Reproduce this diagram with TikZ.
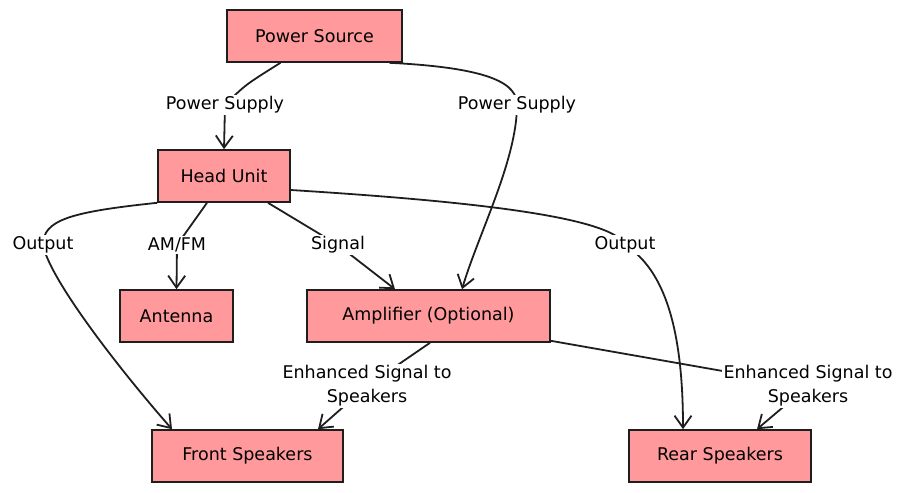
\documentclass[tikz,border=0pt]{standalone}
\usepackage{fontspec}
\setmainfont{DejaVu Sans}
\usetikzlibrary{arrows.meta}
\definecolor{boxpink}{HTML}{FF999C}
\definecolor{ink}{HTML}{1E1E1E}
\tikzset{
  box/.style={draw=ink, fill=boxpink, line width=1.6pt, minimum height=52pt, inner sep=0pt, font=\fontsize{17.5}{20}\selectfont},
  lbl/.style={fill=white, inner sep=1.5pt, align=center, font=\fontsize{17.5}{24}\selectfont},
  conn/.style={draw=ink, line width=1.8pt, -{Straight Barb[length=12pt,width=17pt,line width=1.8pt]}},
}
\begin{document}
\begin{tikzpicture}[x=1pt,y=-1pt]
\useasboundingbox (0,0) rectangle (914,493);
% boxes
\node[box, minimum width=175pt] (ps) at (314.5,36) {Power Source};
\node[box, minimum width=132pt] (hu) at (224,176) {Head Unit};
\node[box, minimum width=113pt] (ant) at (176.5,316) {Antenna};
\node[box, minimum width=243pt] (amp) at (428.5,316) {Amplifier (Optional)};
\node[box, minimum width=191pt] (fs) at (247.5,456) {Front Speakers};
\node[box, minimum width=182pt] (rs) at (720,456) {Rear Speakers};
% label positions
\coordinate (c1) at (225,105);
\coordinate (c2) at (517,105);
\coordinate (c3) at (43,245);
\coordinate (c4) at (177,245);
\coordinate (c5) at (338,245);
\coordinate (c6) at (625,245);
\coordinate (c7) at (367,386);
\coordinate (c8) at (808,386);
% connectors
\draw[conn] ([xshift=-34pt]ps.south) .. controls (245,85) .. (c1) -- (hu.north);
\draw[conn] ([xshift=75pt]ps.south) .. controls (495,68) and (517,85) .. (c2) .. controls (517,160) and (478,235) .. ([xshift=33.5pt]amp.north);
\draw[conn] (hu.south west) .. controls (70,212) and (43,220) .. (c3) .. controls (50,280) and (120,370) .. ([xshift=-75.5pt]fs.north);
\draw[conn] ([xshift=-17pt]hu.south) -- (c4) -- (ant.north);
\draw[conn] ([xshift=44pt]hu.south) -- (c5) -- ([xshift=-33.5pt]amp.north);
\draw[conn] ([yshift=-14pt]hu.east) .. controls (450,200) and (612,215) .. (c6) .. controls (665,270) and (683,330) .. ([xshift=-37pt]rs.north);
\draw[conn] ([xshift=1.5pt]amp.south) -- (c7) -- ([xshift=70.5pt]fs.north);
\draw[conn] ([yshift=2pt]amp.south east) -- (c8) -- ([xshift=37pt]rs.north);
% labels
\node[lbl] (l1) at (c1) {Power Supply};
\node[lbl] (l2) at (c2) {Power Supply};
\node[lbl] (l3) at (c3) {Output};
\node[lbl] (l4) at (c4) {AM/FM};
\node[lbl] (l5) at (c5) {Signal};
\node[lbl] (l6) at (c6) {Output};
\node[lbl] (l7) at (c7) {Enhanced Signal to\\Speakers};
\node[lbl] (l8) at (c8) {Enhanced Signal to\\Speakers};
\end{tikzpicture}
\end{document}
